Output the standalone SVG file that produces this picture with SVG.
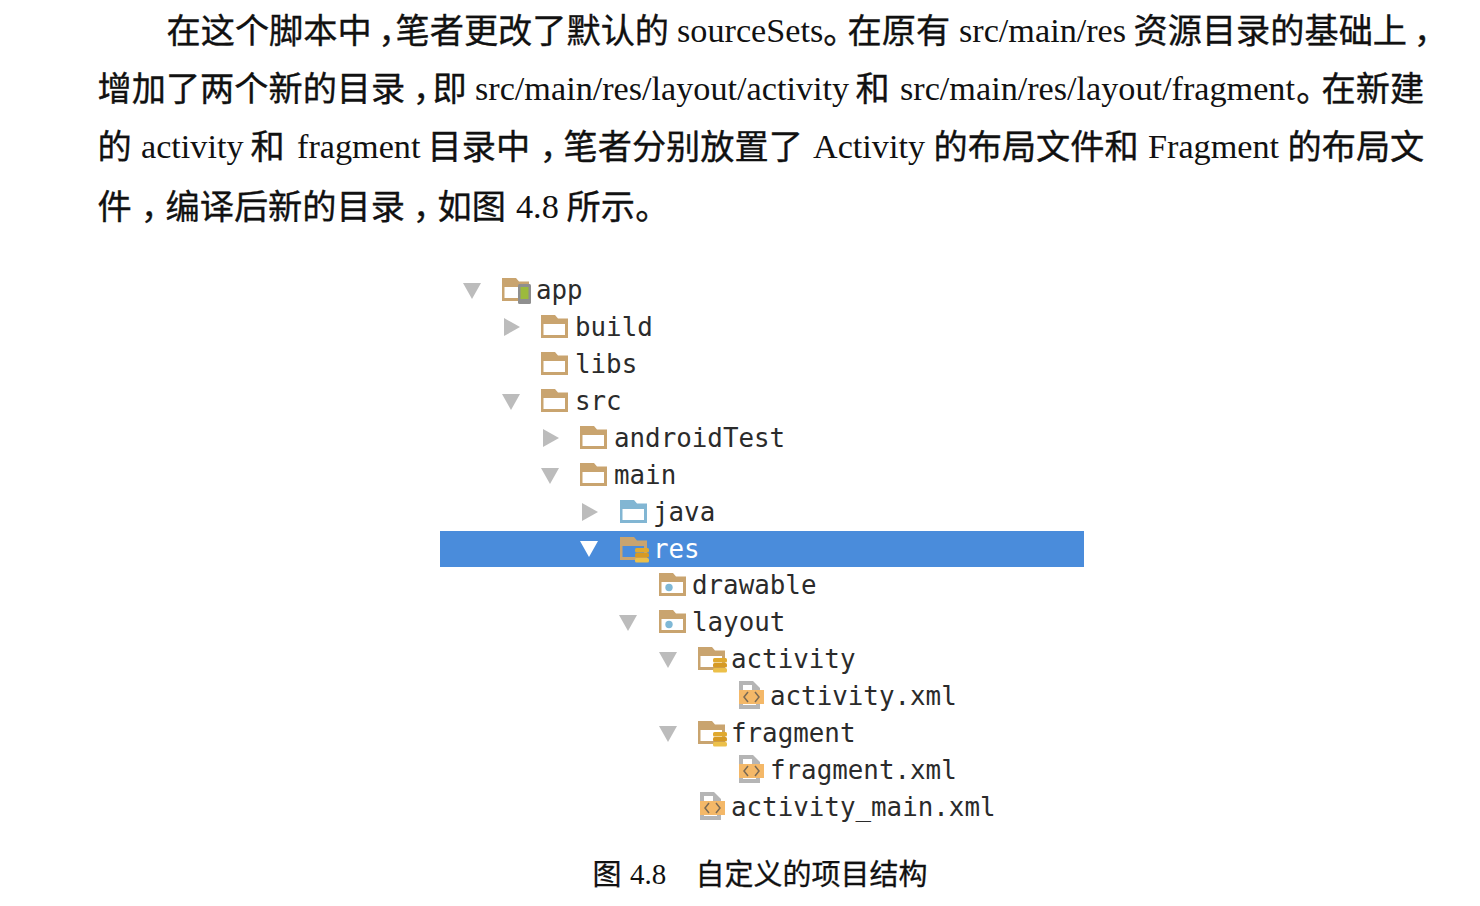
<svg xmlns="http://www.w3.org/2000/svg" xmlns:xlink="http://www.w3.org/1999/xlink" width="1480" height="906" viewBox="0 0 1480 906">
<style>
.c{font-family:"Noto Sans CJK SC","Noto Sans",sans-serif;font-size:34.2px;fill:#111;stroke:#111;stroke-width:.35}
.p{font-family:"Noto Sans CJK SC","Noto Sans",sans-serif;font-size:34px;fill:#111;stroke:#111;stroke-width:.35;font-feature-settings:"palt"}
.l{font-family:"Liberation Serif",serif;font-size:34.2px;fill:#111}
.cc{font-family:"Noto Sans CJK SC","Noto Sans",sans-serif;font-size:29px;fill:#111;stroke:#111;stroke-width:.3}
.cl{font-family:"Liberation Serif",serif;font-size:29px;fill:#111}
.n{font-family:"DejaVu Sans Mono",monospace;font-size:25.85px;fill:#2b2b2b}
.w{fill:#fff}
.tri{fill:#bcbcbc}
.body{fill:#c9a46f}
</style>
<defs>
<path id="shape" d="M0-12H14L17-8.500H27V11H0Z"/>
<g id="folder"><use href="#shape" class="body"/><rect x="2.500" y="-3" width="21.500" height="11" fill="#fff"/></g>
<g id="folder-blue"><use href="#shape" fill="#82b6d3"/><rect x="2.500" y="-3" width="21.500" height="11" fill="#fff"/></g>
<g id="folder-res"><use href="#shape" class="body"/><rect x="2.500" y="-3" width="21.500" height="11" fill="#fff"/><circle cx="10" cy="2.500" r="3.700" fill="#7fb8d6"/></g>
<g id="stack"><rect x="0" y="0" width="14" height="4.500" rx="1.500" fill="#e0a92f"/><rect x="0" y="5" width="14" height="4.500" rx="1.500" fill="#d69a24"/><rect x="0" y="10" width="14" height="4.500" rx="1.500" fill="#ecc04a"/></g>
<g id="folder-data"><use href="#shape" class="body"/><rect x="2.500" y="-3" width="21.500" height="11" fill="#fff"/><use href="#stack" x="15" y="-1"/></g>
<g id="file"><path d="M1-15H15L22-8V13H1Z" fill="#b5b5b5"/><path d="M5-11H14V-6H18V9H5Z" fill="#fff"/><rect x="1" y="-6" width="25" height="14" fill="#f4b868"/><path d="M10-4L6 1L10 6M17-4L21 1L17 6" fill="none" stroke="#7a6a55" stroke-width="1.500"/></g>
<path id="down" d="M-9-8H9L0 8Z" class="tri"/>
<path id="right" d="M-8-9L8 0L-8 9Z" class="tri"/>
</defs>
<rect width="1480" height="906" fill="#fff"/>
<g id="paragraph">
<text><tspan class="c" x="166.500" y="43">在这个脚本中</tspan><tspan class="p" x="380.500" y="43">，</tspan><tspan class="c" x="395.500" y="43">笔者更改了默认的</tspan><tspan class="l" x="677" y="42">sourceSets</tspan><tspan class="p" x="823" y="43">。</tspan><tspan class="c" x="847.500" y="43">在原有</tspan><tspan class="l" x="959" y="42">src/main/res</tspan><tspan class="c" x="1133.500" y="43">资源目录的基础上</tspan><tspan class="p" x="1416" y="43">，</tspan></text>
<text><tspan class="c" x="97.500" y="101">增加了两个新的目录</tspan><tspan class="p" x="415" y="101">，</tspan><tspan class="c" x="432.500" y="101">即</tspan><tspan class="l" x="475" y="100">src/main/res/layout/activity</tspan><tspan class="c" x="855.500" y="101">和</tspan><tspan class="l" x="900" y="100">src/main/res/layout/fragment</tspan><tspan class="p" x="1296" y="101">。</tspan><tspan class="c" x="1321.500" y="101">在新建</tspan></text>
<text><tspan class="c" x="97.500" y="159">的</tspan><tspan class="l" x="141" y="158">activity</tspan><tspan class="c" x="250.500" y="159">和</tspan><tspan class="l" x="297" y="158">fragment</tspan><tspan class="c" x="427.500" y="159">目录中</tspan><tspan class="p" x="542" y="159">，</tspan><tspan class="c" x="563.500" y="159">笔者分别放置了</tspan><tspan class="l" x="813" y="158">Activity</tspan><tspan class="c" x="933.500" y="159">的布局文件和</tspan><tspan class="l" x="1148" y="158">Fragment</tspan><tspan class="c" x="1287.500" y="159">的布局文</tspan></text>
<text><tspan class="c" x="97.500" y="219">件</tspan><tspan class="p" x="143" y="219">，</tspan><tspan class="c" x="165.500" y="219">编译后新的目录</tspan><tspan class="p" x="415" y="219">，</tspan><tspan class="c" x="437.500" y="219">如图</tspan><tspan class="l" x="516" y="218">4.8</tspan><tspan class="c" x="566.500" y="219">所示</tspan><tspan class="p" x="635" y="219">。</tspan></text>
</g>
<rect id="selection" x="440" y="531" width="644" height="36" fill="#4a8cdb"/>
<g id="tree">
<g id="row-app"><use href="#down" x="472" y="291"/><use href="#shape" class="body" x="502" y="290"/><rect x="504.500" y="287" width="21.500" height="11" fill="#fff"/><rect x="518" y="284" width="13" height="20" rx="1.500" fill="#8f8f8f"/><rect x="520.500" y="287" width="8" height="12" fill="#9cba3c"/><text class="n" x="536" y="298.500">app</text></g>
<g id="row-build"><use href="#right" x="512" y="327"/><use href="#folder" x="541" y="327"/><text class="n" x="575" y="335.500">build</text></g>
<g id="row-libs"><use href="#folder" x="541" y="364"/><text class="n" x="575" y="372.500">libs</text></g>
<g id="row-src"><use href="#down" x="511" y="402"/><use href="#folder" x="541" y="401"/><text class="n" x="575" y="409.500">src</text></g>
<g id="row-androidTest"><use href="#right" x="551" y="438"/><use href="#folder" x="580" y="438"/><text class="n" x="614" y="446.500">androidTest</text></g>
<g id="row-main"><use href="#down" x="550" y="476"/><use href="#folder" x="580" y="475"/><text class="n" x="614" y="483.500">main</text></g>
<g id="row-java"><use href="#right" x="590" y="512"/><use href="#folder-blue" x="620" y="512"/><text class="n" x="653" y="520.500">java</text></g>
<g id="row-res"><path d="M580 541H598L589 557Z" fill="#fff"/><use href="#shape" class="body" x="620" y="549"/><rect x="622.500" y="546" width="21.500" height="11" fill="#4a8cdb"/><use href="#stack" x="635" y="548"/><text class="n w" x="653" y="557.500">res</text></g>
<g id="row-drawable"><use href="#folder-res" x="659" y="585"/><text class="n" x="692" y="594">drawable</text></g>
<g id="row-layout"><use href="#down" x="628" y="623"/><use href="#folder-res" x="659" y="622"/><text class="n" x="692" y="631">layout</text></g>
<g id="row-activity"><use href="#down" x="668" y="660"/><use href="#folder-data" x="698" y="659"/><text class="n" x="731" y="667.500">activity</text></g>
<g id="row-activity-xml"><use href="#file" x="738" y="696"/><text class="n" x="770" y="704.500">activity.xml</text></g>
<g id="row-fragment"><use href="#down" x="668" y="734"/><use href="#folder-data" x="698" y="733"/><text class="n" x="731" y="741.500">fragment</text></g>
<g id="row-fragment-xml"><use href="#file" x="738" y="770"/><text class="n" x="770" y="778.500">fragment.xml</text></g>
<g id="row-activity-main-xml"><use href="#file" x="699" y="807"/><text class="n" x="731" y="815.500">activity_main.xml</text></g>
</g>
<g id="caption">
<text><tspan class="cc" x="592.500" y="885">图</tspan><tspan class="cl" x="630" y="884">4.8</tspan><tspan class="cc" x="695.500" y="885">自定义的项目结构</tspan></text>
</g>
</svg>
